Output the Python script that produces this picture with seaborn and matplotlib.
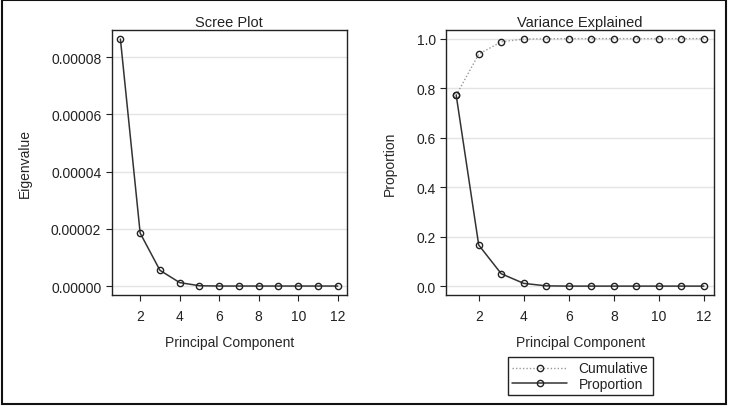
import matplotlib.pyplot as plt
import matplotlib.patches as patches
import numpy as np
import pandas as pd
import seaborn as sns

components = list(range(1, 13))
eigenvalues = [0.0000863, 0.0000185, 0.0000055, 0.0000012, 0.0000001, 0.0,
               0.0, 0.0, 0.0, 0.0, 0.0, 0.0]
proportion = [0.771, 0.166, 0.050, 0.011, 0.001, 0.0,
              0.0, 0.0, 0.0, 0.0, 0.0, 0.0]
cumulative = [0.771, 0.937, 0.987, 0.998, 0.999, 1.0,
              1.0, 1.0, 1.0, 1.0, 1.0, 1.0]
x_ticks = [2, 4, 6, 8, 10, 12]

sns.set_style("white")
plt.rcParams["font.family"] = ["Liberation Sans", "DejaVu Sans"]
plt.rcParams["text.color"] = "#222222"

fig = plt.figure(figsize=(7.32, 4.10), dpi=100)
ax1 = fig.add_axes([0.1526, 0.278, 0.321, 0.646])
ax2 = fig.add_axes([0.6097, 0.278, 0.3657, 0.646])

line_kw = dict(marker="o", markersize=4.5, markerfacecolor="none",
               markeredgecolor="#222222", markeredgewidth=1.0)

df = pd.DataFrame({"pc": components, "eig": eigenvalues,
                   "prop": proportion, "cum": cumulative})

sns.lineplot(data=df, x="pc", y="eig", ax=ax1, color="#333333",
             linewidth=1.1, **line_kw)
sns.lineplot(data=df, x="pc", y="cum", ax=ax2, color="#999999",
             linewidth=1.0, linestyle=(0, (1, 1.5)), label="Cumulative", **line_kw)
sns.lineplot(data=df, x="pc", y="prop", ax=ax2, color="#333333",
             linewidth=1.1, label="Proportion", **line_kw)

ax1.set_ylim(-0.00000314, 0.0000894)
ax1.set_yticks([0, 0.00002, 0.00004, 0.00006, 0.00008])
ax1.set_yticklabels(["0.00000", "0.00002", "0.00004", "0.00006", "0.00008"])
ax1.set_ylabel("Eigenvalue", fontsize=10, labelpad=14)
ax1.set_title("Scree Plot", fontsize=10.5, pad=3)

ax2.set_ylim(-0.036, 1.034)
ax2.set_yticks([0, 0.2, 0.4, 0.6, 0.8, 1.0])
ax2.set_yticklabels(["0.0", "0.2", "0.4", "0.6", "0.8", "1.0"])
ax2.set_ylabel("Proportion", fontsize=10, labelpad=14)
ax2.set_title("Variance Explained", fontsize=10.5, pad=3)

for ax in (ax1, ax2):
    ax.set_xlim(0.56, 12.45)
    ax.set_xticks(x_ticks)
    ax.set_xlabel("Principal Component", fontsize=10, labelpad=9)
    ax.grid(axis="y", color="#e4e4e4", linewidth=1.0)
    ax.set_axisbelow(True)
    ax.tick_params(axis="both", which="both", direction="out", length=4,
                   width=0.8, color="#222222", labelsize=10,
                   labelcolor="#222222", bottom=True, left=True)
    ax.tick_params(axis="x", pad=6)
    for s in ax.spines.values():
        s.set_color("#222222")
        s.set_linewidth(1.0)

handles, labels = ax2.get_legend_handles_labels()
ax2.legend(handles, labels, loc="upper center", bbox_to_anchor=(0.5, -0.235),
           frameon=True, fancybox=False, edgecolor="#222222", framealpha=1,
           fontsize=10, handlelength=4.0, handletextpad=0.8,
           borderpad=0.3, labelspacing=0.1, borderaxespad=0)
ax2.get_legend().get_frame().set_linewidth(1.0)

border = patches.Rectangle((2 / 732, 5 / 410), 724 / 732, 404 / 410,
                           transform=fig.transFigure, fill=False,
                           edgecolor="#111111", linewidth=1.5)
fig.patches.append(border)

fig.savefig("out.png", dpi=100)
